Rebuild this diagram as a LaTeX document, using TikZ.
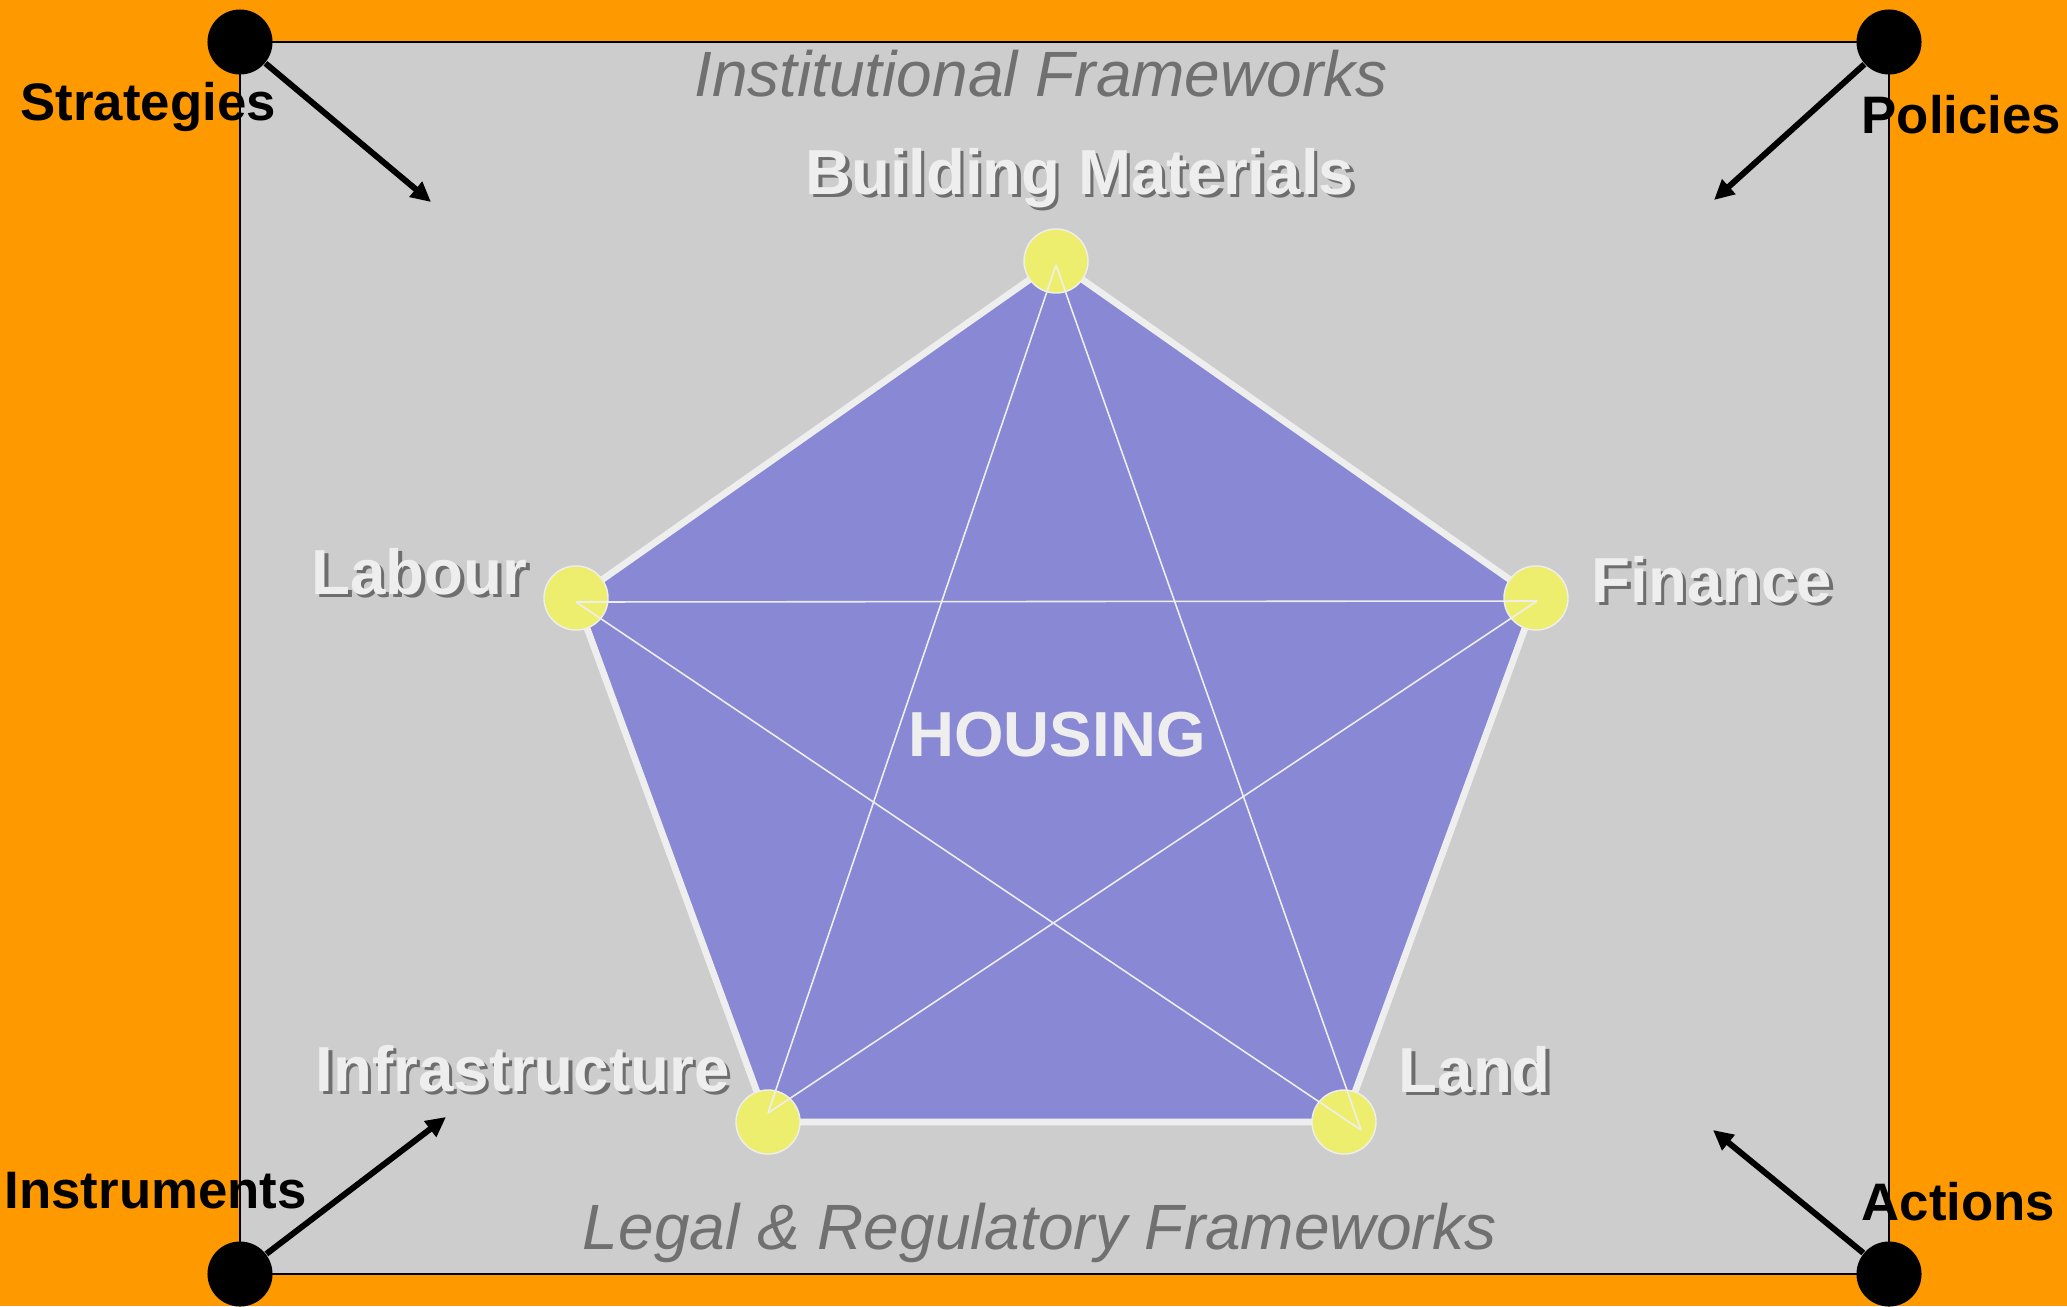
\documentclass[tikz,border=0pt]{standalone}
\usepackage{fontspec}
\setmainfont{Liberation Sans}
\usetikzlibrary{arrows.meta}
\definecolor{bgorange}{HTML}{FF9900}
\definecolor{panelgray}{HTML}{CDCDCD}
\definecolor{pentblue}{HTML}{8888D4}
\definecolor{dotyellow}{HTML}{EEEE6E}
\definecolor{lightline}{HTML}{EEEEEE}
\definecolor{titlegray}{HTML}{707070}
\definecolor{shadowgray}{HTML}{6E6E6E}
\newcommand{\shadowtxt}[1]{\makebox[0pt][l]{\hspace{0.95pt}\raisebox{-0.95pt}{\color{shadowgray}#1}}{\color{lightline}#1}}
\begin{document}
\begin{tikzpicture}[x=0.01cm,y=-0.01cm,
  cornerdot/.style={circle,fill=black,draw=none,minimum size=0.65cm,inner sep=0},
  vertexdot/.style={circle,fill=dotyellow,draw=lightline,line width=0.4pt,minimum size=0.64cm,inner sep=0},
  cornerlbl/.style={inner sep=0,font=\fontsize{15pt}{16pt}\selectfont\bfseries,text=black},
  titlelbl/.style={inner sep=0,font=\fontsize{18.2pt}{20pt}\selectfont\itshape,text=titlegray},
  pentlbl/.style={inner sep=0,font=\fontsize{18.1pt}{19pt}\selectfont\bfseries},
  cornerarrow/.style={line width=1.7pt,-{Triangle[length=0.2cm,width=0.19cm]}},
  pentedge/.style={draw=lightline,line width=1.9pt,fill=pentblue,line join=miter},
  starline/.style={draw=lightline,line width=0.45pt}
]
\useasboundingbox (0,0) rectangle (2067,1306);
\fill[bgorange] (0,0) rectangle (2067,1306);
\draw[fill=panelgray,line width=0.6pt] (240,42) rectangle (1889,1274);

% titles
\node[titlelbl,anchor=base] (tinst) at (1041,96) {Institutional Frameworks};
\node[titlelbl,anchor=base] (tlegal) at (1040,1249) {Legal \& Regulatory Frameworks};

% pentagon
\coordinate (pT) at (1056,261);
\coordinate (pL) at (576,598);
\coordinate (pR) at (1536,598);
\coordinate (pBL) at (768,1122);
\coordinate (pBR) at (1344,1122);
\draw[pentedge] (pT) -- (pR) -- (pBR) -- (pBL) -- (pL) -- cycle;

% vertex dots
\node[vertexdot] (vT) at (pT) {};
\node[vertexdot] (vL) at (pL) {};
\node[vertexdot] (vR) at (pR) {};
\node[vertexdot] (vBL) at (pBL) {};
\node[vertexdot] (vBR) at (pBR) {};

% star
\coordinate (sT) at (1056,265);
\coordinate (sL) at (576,602);
\coordinate (sR) at (1537,601);
\coordinate (sBL) at (768,1113);
\coordinate (sBR) at (1361,1130);
\draw[starline] (sT) -- (sBL);
\draw[starline] (sT) -- (sBR);
\draw[starline] (sL) -- (sR);
\draw[starline] (sL) -- (sBR);
\draw[starline] (sR) -- (sBL);

% pentagon labels
\node[pentlbl,anchor=base] (lbm) at (1080,194) {\shadowtxt{Building Materials}};
\node[pentlbl,anchor=base west] (llab) at (311,594) {\shadowtxt{Labour}};
\node[pentlbl,anchor=base west] (lfin) at (1591,602) {\shadowtxt{Finance}};
\node[pentlbl,anchor=base west] (linf) at (315,1091) {\shadowtxt{Infrastructure}};
\node[pentlbl,anchor=base west] (llan) at (1398,1092) {\shadowtxt{Land}};
\node[pentlbl,anchor=base,text=lightline] (lhou) at (1057,756) {HOUSING};

% corner dots and arrows
\node[cornerdot] (cTL) at (240,42) {};
\node[cornerdot] (cTR) at (1889,42) {};
\node[cornerdot] (cBL) at (240,1274) {};
\node[cornerdot] (cBR) at (1889,1274) {};
\coordinate (aTL) at (431,202);
\coordinate (aTR) at (1714,200);
\coordinate (aBL) at (446,1117);
\coordinate (aBR) at (1713,1130);
\draw[cornerarrow] (cTL) -- (aTL);
\draw[cornerarrow] (cTR) -- (aTR);
\draw[cornerarrow] (cBL) -- (aBL);
\draw[cornerarrow] (cBR) -- (aBR);

% corner labels
\node[cornerlbl,anchor=base west] (lstr) at (20,120) {Strategies};
\node[cornerlbl,anchor=base west] (lpol) at (1861,133) {Policies};
\node[cornerlbl,anchor=base west] (lins) at (4,1208) {Instruments};
\node[cornerlbl,anchor=base west] (lact) at (1861,1220) {Actions};
\end{tikzpicture}
\end{document}
